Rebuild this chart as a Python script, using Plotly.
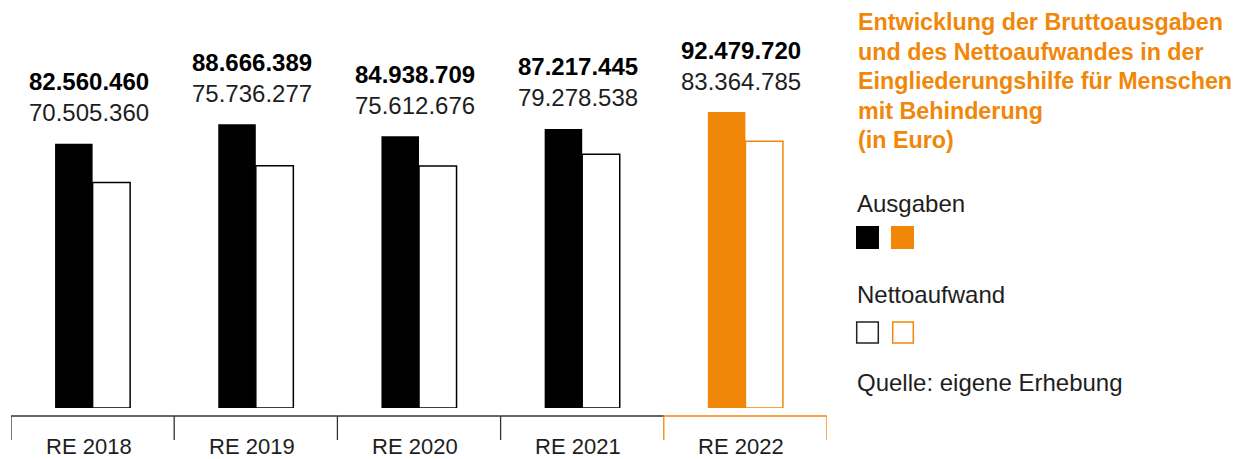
import plotly.graph_objects as go

# Data (Euro)
categories = ["RE 2018", "RE 2019", "RE 2020", "RE 2021", "RE 2022"]
ausgaben = [82560460, 88666389, 84938709, 87217445, 92479720]
nettoaufwand = [70505360, 75736277, 75612676, 79278538, 83364785]

title_lines = [
    "Entwicklung der Bruttoausgaben",
    "und des Nettoaufwandes in der",
    "Eingliederungshilfe für Menschen",
    "mit Behinderung",
    "(in Euro)",
]

ORANGE = "#F18709"
TEXT = "#1e1e1e"
FONT = "Liberation Sans, Arial, sans-serif"

W, H = 1254, 459
L, R, T, B = 11, 427, 8, 51
PW, PH = W - L - R, H - T - B


def px(x):
    return (x - L) / PW


def py(y):
    return (H - B - y) / PH


def de(v):
    return f"{v:,}".replace(",", ".")


highlight = [c == categories[-1] for c in categories]
fill_a = [ORANGE if h else "#000000" for h in highlight]
line_n = [ORANGE if h else "#000000" for h in highlight]

fig = go.Figure()
fig.add_bar(
    x=categories, y=ausgaben, name="Ausgaben",
    marker=dict(color=fill_a, line=dict(width=0)),
    hoverinfo="skip",
)
fig.add_bar(
    x=categories, y=nettoaufwand, name="Nettoaufwand",
    marker=dict(color="white", line=dict(color=line_n, width=1.5)),
    hoverinfo="skip",
)

annotations = []
shapes = []

# value labels above each pair
for c, a, n in zip(categories, ausgaben, nettoaufwand):
    annotations.append(dict(x=c, y=a, xref="x", yref="y", text=f"<b>{de(a)}</b>",
                            showarrow=False, yanchor="middle", yshift=62, xshift=-4,
                            font=dict(size=24, color="#000000", family=FONT)))
    annotations.append(dict(x=c, y=a, xref="x", yref="y", text=de(n),
                            showarrow=False, yanchor="middle", yshift=31, xshift=-4,
                            font=dict(size=24, color=TEXT, family=FONT)))

# category axis: bracket segments with labels
for i, (c, h) in enumerate(zip(categories, highlight)):
    col = ORANGE if h else "#333333"
    shapes.append(dict(type="line", xref="x", yref="paper", x0=i - 0.5, x1=i + 0.5,
                       y0=py(416), y1=py(416), line=dict(color=col, width=1.3)))
    shapes.append(dict(type="line", xref="x", yref="paper", x0=i - 0.5, x1=i - 0.5,
                       y0=py(416), y1=py(440), line=dict(color=col, width=1.3)))
    if i == len(categories) - 1:
        shapes.append(dict(type="line", xref="x", yref="paper", x0=i + 0.5, x1=i + 0.5,
                           y0=py(416), y1=py(440), line=dict(color=col, width=1.3)))
    annotations.append(dict(x=c, y=py(446), xref="x", yref="paper", text=c,
                            showarrow=False, yanchor="middle", xshift=-4,
                            font=dict(size=22, color=TEXT, family=FONT)))

# title block
for k, line in enumerate(title_lines):
    annotations.append(dict(x=px(856), y=py(22 + 29.6 * k), xref="paper", yref="paper",
                            text=f"<b>{line}</b>", showarrow=False,
                            xanchor="left", yanchor="middle",
                            font=dict(size=23.3, color=ORANGE, family=FONT)))

# legend
for txt, yc in [("Ausgaben", 203), ("Nettoaufwand", 294), ("Quelle: eigene Erhebung", 382)]:
    annotations.append(dict(x=px(855), y=py(yc), xref="paper", yref="paper", text=txt,
                            showarrow=False, xanchor="left", yanchor="middle",
                            font=dict(size=24, color=TEXT, family=FONT)))

shapes.append(dict(type="rect", xref="paper", yref="paper", x0=px(856), x1=px(879),
                   y0=py(226), y1=py(249), fillcolor="#000000", line=dict(width=0)))
shapes.append(dict(type="rect", xref="paper", yref="paper", x0=px(891), x1=px(914),
                   y0=py(226), y1=py(249), fillcolor=ORANGE, line=dict(width=0)))
shapes.append(dict(type="rect", xref="paper", yref="paper", x0=px(856.7), x1=px(878.3),
                   y0=py(322), y1=py(343), fillcolor="white",
                   line=dict(color="#222222", width=1.5)))
shapes.append(dict(type="rect", xref="paper", yref="paper", x0=px(892.7), x1=px(913.3),
                   y0=py(322), y1=py(343), fillcolor="white",
                   line=dict(color=ORANGE, width=1.5)))

fig.update_layout(
    width=W, height=H,
    margin=dict(l=L, r=R, t=T, b=B, pad=0),
    paper_bgcolor="white", plot_bgcolor="white",
    barmode="group", bargap=0.54, bargroupgap=0,
    showlegend=False,
    annotations=annotations, shapes=shapes,
    font=dict(family=FONT),
)
fig.update_xaxes(showticklabels=False, showline=False, showgrid=False, zeroline=False,
                 ticks="", range=[-0.5, len(categories) - 0.5])
fig.update_yaxes(visible=False, range=[0, PH / 3.2 * 1e6], showgrid=False, zeroline=False)

fig.write_html("out.html")
